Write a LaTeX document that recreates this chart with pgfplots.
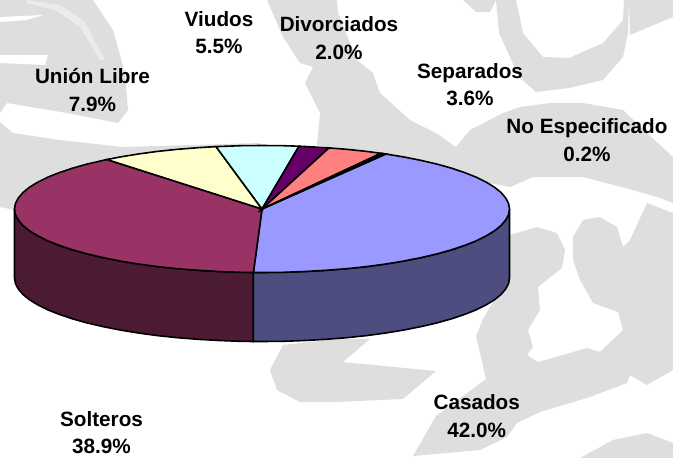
\documentclass[border=0pt]{standalone}
\usepackage{pgfplots}
\pgfplotsset{compat=1.18}
\usepackage{fontspec}
\setmainfont{Liberation Sans}
\definecolor{wm}{HTML}{DEDEDE}
\definecolor{wl}{HTML}{EBEBEB}
\definecolor{casT}{RGB}{153,153,255}
\definecolor{casS}{RGB}{77,77,128}
\definecolor{solT}{RGB}{153,51,102}
\definecolor{solS}{RGB}{77,26,51}
\definecolor{ulT}{RGB}{255,255,204}
\definecolor{viT}{RGB}{204,255,255}
\definecolor{diT}{RGB}{102,0,102}
\definecolor{seT}{RGB}{255,128,128}
\newcommand{\lab}[3]{\node[anchor=base,inner sep=0pt,font=\fontsize{20.7}{24}\selectfont\bfseries] at (axis cs:#1,#2) {#3};}
\begin{document}
\begin{tikzpicture}
\begin{axis}[scale only axis,width=673pt,height=458pt,xmin=0,xmax=673,ymin=0,ymax=458,y dir=reverse,axis lines=none,clip=true]
% background watermark
\addplot[fill=wm,draw=none] coordinates {(0,0)(93,0)(113,30)(125,73)(128,110)(118,123)(67,113)(7,103)(0,113)} --cycle;
\addplot[fill=wl,draw=none] coordinates {(27,0)(60,5)(85,22)(105,60)(100,60)(80,27)(55,10)(27,3)} --cycle;
\addplot[fill=white,draw=none] coordinates {(0,17)(43,15)(27,20)(0,22)} --cycle;
\addplot[fill=white,draw=none] coordinates {(0,55)(48,55)(45,65)(0,63)} --cycle;
\addplot[fill=wm,draw=none] coordinates {(0,122)(13,133)(60,140)(123,147)(260,143)(260,210)(15,210)(0,207)} --cycle;
\addplot[fill=wm,draw=none] coordinates {(267,0)(283,37)(300,63)(313,67)(305,83)(320,113)(317,145)(420,165)(445,175)(510,187)(533,177)(583,177)(633,190)(657,197)(673,203)(673,157)(647,133)(623,110)(583,103)(550,103)(520,107)(503,113)(470,130)(456,147)(436,133)(410,120)(380,93)(373,73)(357,60)(338,13)(337,0)} --cycle;
\addplot[fill=wm,draw=none] coordinates {(463,0)(476,12)(490,12)(496,0)} --cycle;
\addplot[fill=wm,draw=none] coordinates {(496,0)(499,33)(519,77)(536,92)(569,88)(603,80)(623,57)(628,33)(629,0)(624,0)(623,20)(603,43)(569,58)(543,57)(523,33)(516,0)} --cycle;
\addplot[fill=wm,draw=none] coordinates {(629,0)(673,0)(673,17)(630,35)} --cycle;
\addplot[fill=wm,draw=none] coordinates {(509,235)(517,233)(537,227)(557,233)(565,250)(562,268)(538,287)(540,310)(528,330)(533,347)(527,355)(538,362)(587,348)(600,352)(623,330)(618,312)(593,303)(580,280)(573,260)(573,237)(583,220)(600,217)(617,227)(623,247)(630,240)(647,203)(673,213)(673,370)(647,385)(630,375)(627,383)(590,397)(540,412)(517,423)(507,437)(480,450)(413,456)(436,416)(486,379)(476,336)(483,319)(500,290)(510,280)} --cycle;
\addplot[fill=wm,draw=none] coordinates {(336,339)(370,339)(343,362)(436,371)(403,399)(336,402)(300,402)(277,390)(270,370)(283,345)} --cycle;
\addplot[fill=wm,draw=none] coordinates {(580,458)(613,440)(647,433)(673,443)(673,458)} --cycle;
% side walls
\addplot[fill=solS,draw=black,line width=1.6pt] coordinates {(14.5,209)(15.4,214.5)(18.3,220)(22.9,225.4)(29.4,230.7)(37.7,235.8)(47.7,240.8)(59.3,245.4)(72.4,249.8)(87,253.9)(102.9,257.6)(120,261)(138.2,264)(157.4,266.6)(177.4,268.7)(197.9,270.3)(219,271.5)(240.4,272.3)(253.4,272.5)(253.4,341.5)(240.4,341.3)(219,340.5)(197.9,339.3)(177.4,337.7)(157.4,335.6)(138.2,333)(120,330)(102.9,326.6)(87,322.9)(72.4,318.8)(59.3,314.4)(47.7,309.8)(37.7,304.8)(29.4,299.7)(22.9,294.4)(18.3,289)(15.4,283.5)(14.5,278)} --cycle;
\addplot[fill=casS,draw=black,line width=1.6pt] coordinates {(253.4,272.5)(262,272.5)(283.6,272.3)(305,271.5)(326.1,270.3)(346.6,268.7)(366.6,266.6)(385.8,264)(404,261)(421.1,257.6)(437,253.9)(451.6,249.8)(464.7,245.4)(476.3,240.8)(486.3,235.8)(494.6,230.7)(501.1,225.4)(505.7,220)(508.6,214.5)(509.5,209)(509.5,278)(508.6,283.5)(505.7,289)(501.1,294.4)(494.6,299.7)(486.3,304.8)(476.3,309.8)(464.7,314.4)(451.6,318.8)(437,322.9)(421.1,326.6)(404,330)(385.8,333)(366.6,335.6)(346.6,337.7)(326.1,339.3)(305,340.5)(283.6,341.3)(262,341.5)(253.4,341.5)} --cycle;
% top: Casados
\addplot[fill=casT,draw=black,line width=1.6pt] coordinates {(262,209)(385.8,154)(404,157)(421.1,160.4)(437,164.1)(451.6,168.2)(464.7,172.6)(476.3,177.2)(486.3,182.2)(494.6,187.3)(501.1,192.6)(505.7,198)(508.6,203.5)(509.5,209)(508.6,214.5)(505.7,220)(501.1,225.4)(494.6,230.7)(486.3,235.8)(476.3,240.8)(464.7,245.4)(451.6,249.8)(437,253.9)(421.1,257.6)(404,261)(385.8,264)(366.6,266.6)(346.6,268.7)(326.1,270.3)(305,271.5)(283.6,272.3)(262,272.5)(253.4,272.5)} --cycle;
% Solteros
\addplot[fill=solT,draw=black,line width=1.6pt] coordinates {(262,209)(253.4,272.5)(240.4,272.3)(219,271.5)(197.9,270.3)(177.4,268.7)(157.4,266.6)(138.2,264)(120,261)(102.9,257.6)(87,253.9)(72.4,249.8)(59.3,245.4)(47.7,240.8)(37.7,235.8)(29.4,230.7)(22.9,225.4)(18.3,220)(15.4,214.5)(14.5,209)(15.4,203.5)(18.3,198)(22.9,192.6)(29.4,187.3)(37.7,182.2)(47.7,177.2)(59.3,172.6)(72.4,168.2)(87,164.1)(106.9,159.5)} --cycle;
% Union Libre
\addplot[fill=ulT,draw=black,line width=1.6pt] coordinates {(262,209)(106.9,159.5)(120,157)(138.2,154)(157.4,151.4)(177.4,149.3)(197.9,147.7)(216,146.6)} --cycle;
% Viudos
\addplot[fill=viT,draw=black,line width=1.6pt] coordinates {(262,209)(216,146.6)(219,146.5)(240.4,145.7)(262,145.5)(283.6,145.7)(299,146.2)} --cycle;
% Divorciados
\addplot[fill=diT,draw=black,line width=1.6pt] coordinates {(262,209)(299,146.2)(305,146.5)(326.1,147.7)(329,147.9)} --cycle;
% Separados
\addplot[fill=seT,draw=black,line width=1.6pt] coordinates {(262,209)(329,147.9)(346.6,149.3)(366.6,151.4)(381,153.3)} --cycle;
% No Especificado
\addplot[fill=black,draw=black,line width=1.6pt] coordinates {(262,209)(381,153.3)(385.8,154)} --cycle;
\lab{219}{26}{Viudos}
\lab{219}{53}{5.5\%}
\lab{92.5}{83}{Unión Libre}
\lab{92.5}{111}{7.9\%}
\lab{339}{31.5}{Divorciados}
\lab{339}{59}{2.0\%}
\lab{470}{78}{Separados}
\lab{470}{105}{3.6\%}
\lab{587}{133}{No Especificado}
\lab{587}{161}{0.2\%}
\lab{101.5}{426}{Solteros}
\lab{101.5}{453}{38.9\%}
\lab{476.7}{409}{Casados}
\lab{476.7}{437}{42.0\%}
\end{axis}
\end{tikzpicture}
\end{document}
